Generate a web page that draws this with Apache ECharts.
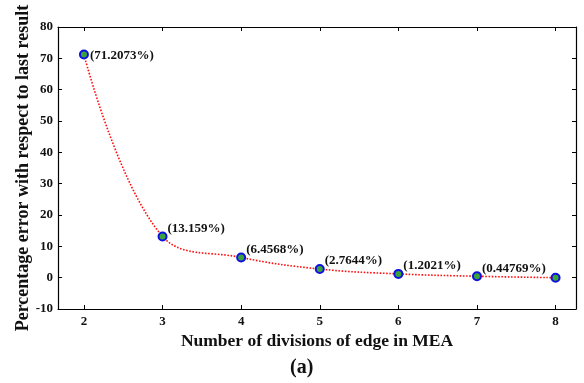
<!DOCTYPE html>
<html>
<head>
<meta charset="utf-8">
<script src="https://cdn.jsdelivr.net/npm/echarts@6/dist/echarts.min.js"></script>
<style>
html,body{margin:0;padding:0;background:#fff;}
#chart{width:584px;height:383px;}
</style>
</head>
<body>
<div id="chart"></div>
<script>
const divisions = [2, 3, 4, 5, 6, 7, 8];
const errorPct = [71.2073, 13.159, 6.4568, 2.7644, 1.2021, 0.44769, 0];
const pointLabels = ['(71.2073%)', '(13.159%)', '(6.4568%)', '(2.7644%)', '(1.2021%)', '(0.44769%)', ''];
const xTicks = [2, 3, 4, 5, 6, 7, 8];

const FONT = '"Liberation Serif", "Times New Roman", serif';

const seriesData = divisions.map((d, i) => {
  const item = { value: [d, errorPct[i]] };
  if (pointLabels[i]) {
    item.label = {
      show: true,
      formatter: pointLabels[i],
      position: 'right',
      offset: i === 0 ? [-4, 1] : [-5, -8]
    };
  }
  return item;
});

const chart = echarts.init(document.getElementById('chart'));
const axisLine = { show: true, onZero: false, lineStyle: { color: '#000', width: 1.2 } };
chart.setOption({
  animation: false,
  backgroundColor: '#fff',
  grid: { left: 58, right: 8, top: 27, bottom: 74 },
  xAxis: [{
    type: 'value', min: 1.67, max: 8.26,
    position: 'bottom',
    name: 'Number of divisions of edge in MEA',
    nameLocation: 'middle', nameGap: 18,
    nameTextStyle: { fontFamily: FONT, fontWeight: 'bold', fontSize: 17.5, color: '#111' },
    axisLine: axisLine,
    axisTick: { show: true, inside: true, length: 4, customValues: xTicks, lineStyle: { color: '#000' } },
    axisLabel: { customValues: xTicks, fontFamily: FONT, fontWeight: 'bold', fontSize: 13, color: '#111', margin: 6 },
    splitLine: { show: false }
  }, {
    type: 'value', min: 1.67, max: 8.26,
    position: 'top',
    axisLine: axisLine,
    axisTick: { show: true, inside: true, length: 4, customValues: xTicks, lineStyle: { color: '#000' } },
    axisLabel: { show: false },
    splitLine: { show: false }
  }],
  yAxis: [{
    type: 'value', min: -10, max: 80, interval: 10,
    position: 'left',
    name: 'Percentage error with respect to last result',
    nameLocation: 'middle', nameGap: 26, nameMoveOverlap: false,
    nameTextStyle: { fontFamily: FONT, fontWeight: 'bold', fontSize: 18, color: '#111' },
    axisLine: axisLine,
    axisTick: { show: true, inside: true, length: 4, lineStyle: { color: '#000' } },
    axisLabel: { fontFamily: FONT, fontWeight: 'bold', fontSize: 13, color: '#111', margin: 5 },
    splitLine: { show: false }
  }, {
    type: 'value', min: -10, max: 80, interval: 10,
    position: 'right',
    axisLine: axisLine,
    axisTick: { show: true, inside: true, length: 4, lineStyle: { color: '#000' } },
    axisLabel: { show: false },
    splitLine: { show: false }
  }],
  graphic: [{
    type: 'text', left: 290, top: 358,
    style: { text: '(a)', font: 'bold 20px ' + FONT, fill: '#111' }
  }],
  series: [{
    type: 'line',
    data: seriesData,
    smooth: 0.4,
    symbol: 'circle',
    symbolSize: 8,
    itemStyle: { color: '#3aa33a', borderColor: '#1010e0', borderWidth: 2 },
    lineStyle: { color: '#ff1010', width: 1.6, type: 'dotted' },
    label: { fontFamily: FONT, fontWeight: 'bold', fontSize: 13, color: '#111' }
  }]
});
</script>
</body>
</html>
